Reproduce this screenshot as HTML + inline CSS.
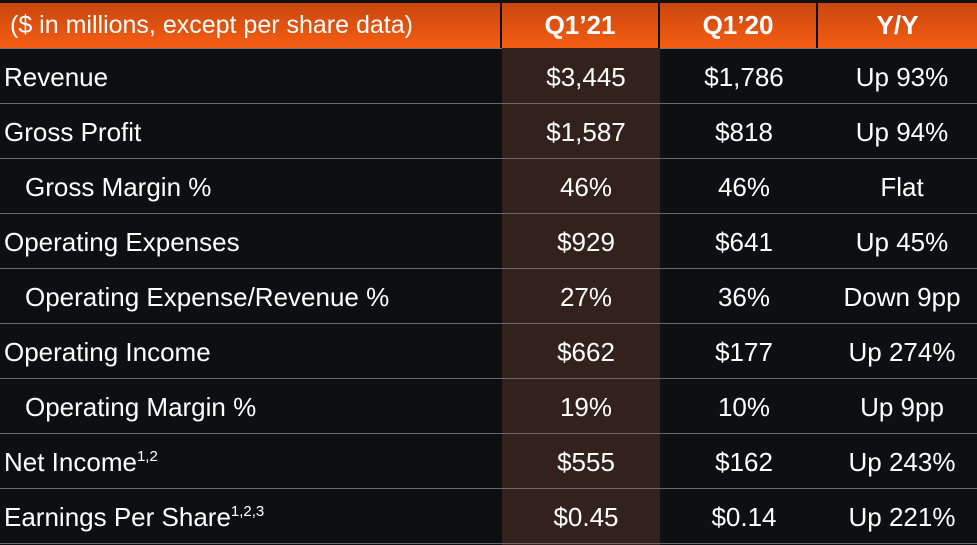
<!DOCTYPE html><html><head><style>
body{margin:0;width:977px;height:545px;background:#0c1013;overflow:hidden;font-family:"Liberation Sans",sans-serif;color:#fff;position:relative}
.hl{position:absolute;left:502px;top:48px;width:158px;height:497px;background:#33221c}
.hdr{position:absolute;top:3px;height:45px;background:linear-gradient(#c9460e,#f55e12);font-size:25px;display:flex;align-items:center;justify-content:center}
.hdr b{font-weight:bold;font-size:26px}
.row{position:absolute;left:0;width:977px;height:55px;border-bottom:1px solid #6a6a6a;font-size:26px}
.row div{position:absolute;top:14px}
.c{text-align:center;width:158px}
sup{font-size:15px;vertical-align:10px}
</style></head><body>
<div style="position:absolute;top:0;left:0;width:977px;height:3px;background:#111"></div>
<div class="hdr" style="left:0;width:500px;justify-content:flex-start;padding-left:10px;box-sizing:border-box">($ in millions, except per share data)</div>
<div class="hdr" style="left:502px;width:156px"><b>Q1’21</b></div>
<div class="hdr" style="left:660px;width:156px"><b>Q1’20</b></div>
<div class="hdr" style="left:818px;width:159px"><b>Y/Y</b></div>
<div style="position:absolute;top:48px;left:0;width:977px;height:1px;background:#777"></div>
<div class="hl"></div>
<div class="row" style="top:48px"><div style="left:4px">Revenue</div><div class="c" style="left:507px">$3,445</div><div class="c" style="left:665px">$1,786</div><div class="c" style="left:823px">Up 93%</div></div>
<div class="row" style="top:103px"><div style="left:4px">Gross Profit</div><div class="c" style="left:507px">$1,587</div><div class="c" style="left:665px">$818</div><div class="c" style="left:823px">Up 94%</div></div>
<div class="row" style="top:158px"><div style="left:25px">Gross Margin %</div><div class="c" style="left:507px">46%</div><div class="c" style="left:665px">46%</div><div class="c" style="left:823px">Flat</div></div>
<div class="row" style="top:213px"><div style="left:4px">Operating Expenses</div><div class="c" style="left:507px">$929</div><div class="c" style="left:665px">$641</div><div class="c" style="left:823px">Up 45%</div></div>
<div class="row" style="top:268px"><div style="left:25px">Operating Expense/Revenue %</div><div class="c" style="left:507px">27%</div><div class="c" style="left:665px">36%</div><div class="c" style="left:823px">Down 9pp</div></div>
<div class="row" style="top:323px"><div style="left:4px">Operating Income</div><div class="c" style="left:507px">$662</div><div class="c" style="left:665px">$177</div><div class="c" style="left:823px">Up 274%</div></div>
<div class="row" style="top:378px"><div style="left:25px">Operating Margin %</div><div class="c" style="left:507px">19%</div><div class="c" style="left:665px">10%</div><div class="c" style="left:823px">Up 9pp</div></div>
<div class="row" style="top:433px"><div style="left:4px">Net Income<sup>1,2</sup></div><div class="c" style="left:507px">$555</div><div class="c" style="left:665px">$162</div><div class="c" style="left:823px">Up 243%</div></div>
<div class="row" style="top:488px"><div style="left:4px">Earnings Per Share<sup>1,2,3</sup></div><div class="c" style="left:507px">$0.45</div><div class="c" style="left:665px">$0.14</div><div class="c" style="left:823px">Up 221%</div></div>
</body></html>
